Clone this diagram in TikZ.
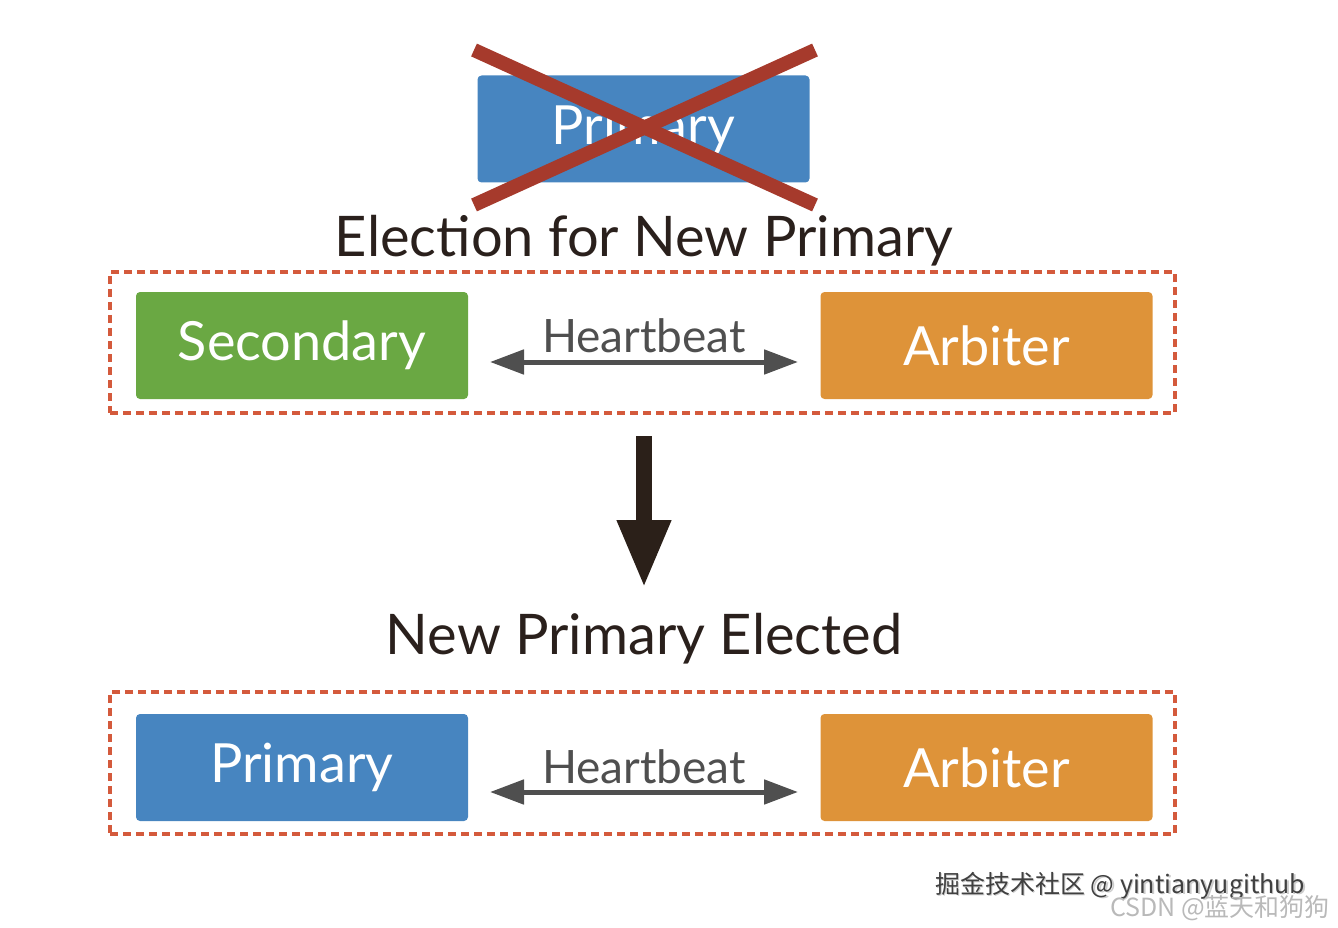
\documentclass[tikz,border=0pt]{standalone}
\usepackage{fontspec}
\setmainfont{Lato}
\newfontfamily\cjk{Noto Sans CJK SC}
\usetikzlibrary{arrows.meta}
\definecolor{pblue}{HTML}{4785C0}
\definecolor{sgreen}{HTML}{6AA843}
\definecolor{aorange}{HTML}{DE9339}
\definecolor{xred}{HTML}{A63A2C}
\definecolor{dred}{HTML}{D45A3C}
\definecolor{hgray}{HTML}{4F4F4F}
\definecolor{dtext}{HTML}{2A201C}
\definecolor{darr}{HTML}{2B2019}
\tikzset{
  member/.style={rounded corners=4pt, minimum width=332pt, minimum height=107pt, inner sep=0pt, text=white, font=\fontsize{54}{60}\selectfont},
  group/.style={draw=dred, line width=3.5pt, dash pattern=on 8pt off 5pt},
  hb/.style={draw=hgray, line width=5pt, {Triangle[width=24pt,length=34pt]}-{Triangle[width=24pt,length=34pt]}},
  hbtext/.style={text=hgray, font=\fontsize{46}{50}\selectfont, inner sep=0pt},
  title/.style={text=dtext, font=\fontsize{56}{60}\selectfont, inner sep=0pt},
  wm/.style={font=\cjk\fontsize{25}{28}\selectfont, inner sep=0pt, anchor=west}
}
\begin{document}
\begin{tikzpicture}[x=1pt,y=-1pt]
\useasboundingbox (0,0) rectangle (1338,928);
% old primary
\node[member, fill=pblue] (oldp) at (643.5,129) {Primary};
\coordinate (xa) at (474,50);
\coordinate (xb) at (815,205);
\coordinate (xc) at (815,50);
\coordinate (xd) at (474,205);
\draw[xred, line width=14pt] (xa) -- (xb);
\draw[xred, line width=14pt] (xc) -- (xd);
\node[title] (t1) at (644,241) {Election for New Primary};
% group 1
\node[group, minimum width=1065pt, minimum height=141pt, inner sep=0pt] (g1) at (642.5,342.5) {};
\node[member, fill=sgreen] (sec) at (302,345.5) {Secondary};
\node[member, fill=aorange] (arb1) at (986.5,345.5) {Arbiter};
\coordinate (h1l) at (490,362);
\coordinate (h1r) at (798,362);
\draw[hb] (h1l) -- (h1r);
\node[hbtext] (hb1) at (644,336) {Heartbeat};
% big arrow
\coordinate (ba) at (644,436);
\coordinate (bb) at (644,588);
\draw[darr, line width=16pt, -{Triangle[width=50pt,length=68pt]}] (ba) -- (bb);
\node[title] (t2) at (644,639) {New Primary Elected};
% group 2
\node[group, minimum width=1065pt, minimum height=142pt, inner sep=0pt] (g2) at (642.5,763) {};
\node[member, fill=pblue] (newp) at (302,767.5) {Primary};
\node[member, fill=aorange] (arb2) at (986.5,767.5) {Arbiter};
\coordinate (h2l) at (490,792);
\coordinate (h2r) at (798,792);
\draw[hb] (h2l) -- (h2r);
\node[hbtext] (hb2) at (644,767) {Heartbeat};
% watermarks
\node[wm, text=gray!40] (w1s) at (936.5,887.5) {掘金技术社区 @ yintianyugithub};
\node[wm, text=black!75] (w1) at (935,886) {掘金技术社区 @ yintianyugithub};
\node[wm, text=gray!55] (w2) at (1110,908) {CSDN @蓝天和狗狗};
\end{tikzpicture}
\end{document}
